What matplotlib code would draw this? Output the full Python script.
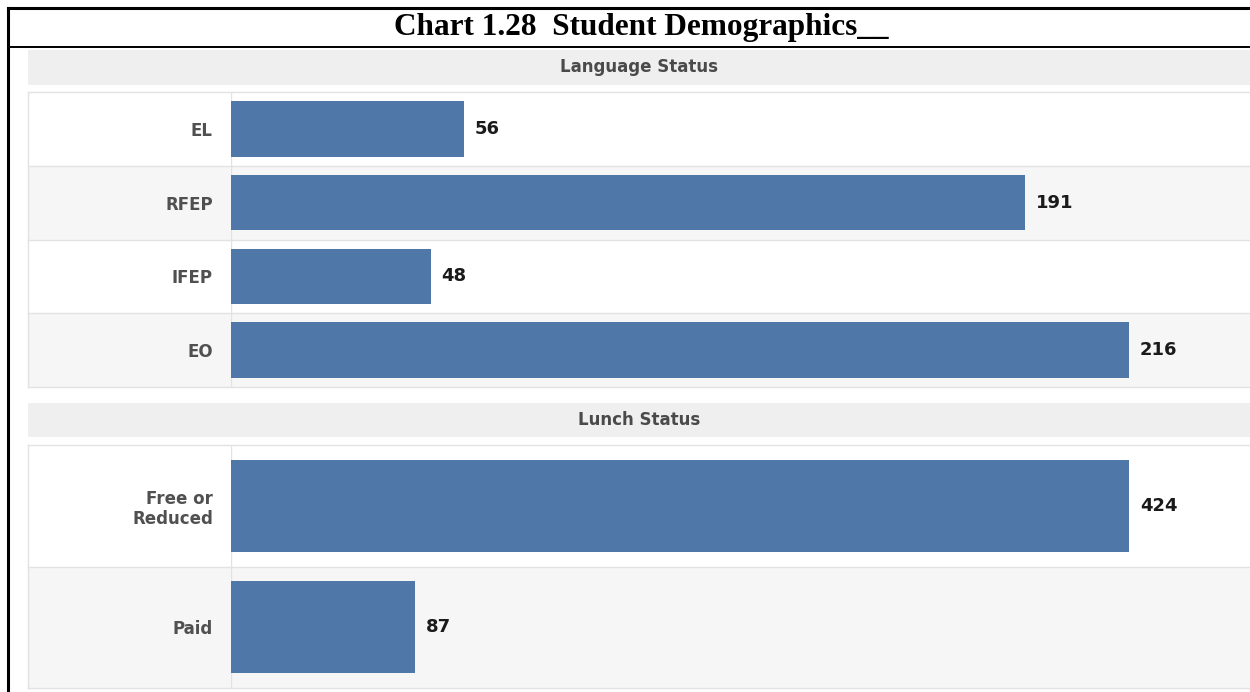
import matplotlib
matplotlib.use("Agg")
import matplotlib.pyplot as plt
from matplotlib.patches import Rectangle
from matplotlib.lines import Line2D

W, H = 1250, 692

title = "Chart 1.28  Student Demographics__"

lang_title = "Language Status"
lang_labels = ["EL", "RFEP", "IFEP", "EO"]
lang_values = [56, 191, 48, 216]

lunch_title = "Lunch Status"
lunch_labels = ["Free or\nReduced", "Paid"]
lunch_values = [424, 87]

bar_color = "#4f78a9"
band_color = "#f6f6f6"
header_color = "#efefef"
line_color = "#e2e2e2"


def fx(x):
    return x / W


def fy(y):
    return 1 - y / H


fig = plt.figure(figsize=(W / 100, H / 100), dpi=100)
fig.patch.set_facecolor("white")

# outer frame and title row
fig.add_artist(Line2D([fx(8), fx(1250)], [fy(8), fy(8)], color="black", lw=2.2))
fig.add_artist(Line2D([fx(8), fx(8)], [fy(8), fy(692)], color="black", lw=2.2))
fig.add_artist(Line2D([fx(8), fx(1250)], [fy(47), fy(47)], color="black", lw=1.4))
fig.text(fx(641), fy(28), title, ha="center", va="center",
         family="Liberation Serif", fontweight="bold", fontsize=22.5)


def panel(top, bottom, head_top, head_bottom, heading, labels, values, bar_h):
    # header band
    fig.add_artist(Rectangle((fx(28), fy(head_bottom)), fx(1250) - fx(28),
                             fy(head_top) - fy(head_bottom),
                             facecolor=header_color, edgecolor="none"))
    fig.text(fx(639), fy((head_top + head_bottom) / 2), heading,
             ha="center", va="center", fontsize=12, fontweight="bold",
             color="#4a4a4a")

    ax = fig.add_axes([fx(231), fy(bottom), fx(1250) - fx(231),
                       fy(top) - fy(bottom)])
    n = len(values)
    ypos = list(range(n))
    xmax = max(values) * 1019 / 898
    ax.set_xlim(0, xmax)
    ax.set_ylim(n - 0.5, -0.5)

    left_ext = (28 - 231) / 1019
    for i in ypos:
        c = "white" if i % 2 == 0 else band_color
        ax.axhspan(i - 0.5, i + 0.5, xmin=left_ext, xmax=1, facecolor=c,
                   edgecolor="none", clip_on=False, zorder=0)
        ax.axhline(i - 0.5, xmin=left_ext, xmax=1, color=line_color, lw=1,
                   clip_on=False, zorder=1)
    ax.axhline(n - 0.5, xmin=left_ext, xmax=1, color=line_color, lw=1,
               clip_on=False, zorder=1)
    ax.axvline(0, color=line_color, lw=1, zorder=1)
    ax.axvline(xmax * left_ext, color=line_color, lw=1, clip_on=False, zorder=1)

    ax.barh(ypos, values, height=bar_h, color=bar_color, zorder=2)
    for i, v in zip(ypos, values):
        ax.annotate(str(v), (v, i), xytext=(11, 0), textcoords="offset pixels",
                    va="center", ha="left", fontsize=13, fontweight="bold",
                    color="#1a1a1a")

    ax.set_yticks(ypos)
    ax.set_yticklabels(labels, fontsize=12, fontweight="bold", color="#505050",
                       linespacing=1.15)
    ax.tick_params(axis="y", length=0, pad=13)
    ax.set_xticks([])
    for s in ax.spines.values():
        s.set_visible(False)
    ax.patch.set_alpha(0)
    return ax


panel(92, 387, 50, 85, lang_title, lang_labels, lang_values, 0.75)
panel(445, 688, 403, 437, lunch_title, lunch_labels, lunch_values, 0.76)

fig.savefig("out.png", dpi=100)
